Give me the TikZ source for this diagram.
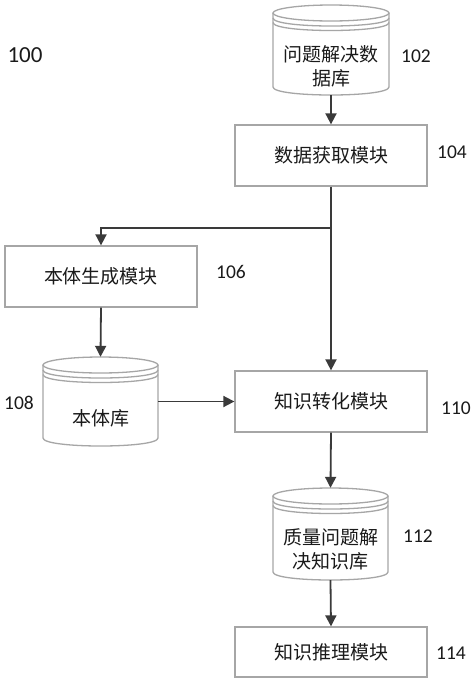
\documentclass[tikz,border=0pt]{standalone}
\usepackage{fontspec}
\setmainfont{Carlito}
\newfontfamily\cjk{Noto Sans CJK SC}
\usetikzlibrary{arrows.meta}
\definecolor{lnc}{HTML}{3A3A3A}
\definecolor{bdc}{HTML}{A6A6A6}
\definecolor{txc}{HTML}{1A1A1A}
\tikzset{
  box/.style={draw=bdc, line width=1.3pt, fill=white, minimum width=192pt, inner sep=0pt, font=\cjk\fontsize{19}{24}\selectfont, text=txc},
  dbline/.style={draw=bdc, line width=1.3pt},
  dbarea/.style={inner sep=0pt},
  dbtext/.style={inner sep=0pt, align=center, font=\cjk\fontsize{19}{24}\selectfont, text=txc},
  lbl/.style={inner sep=0pt, font=\fontsize{19.5}{21}\selectfont, text=txc},
  arr/.style={draw=lnc, line width=1.8pt, -{Triangle[length=11pt,width=11pt]}},
  ln/.style={draw=lnc, line width=1.8pt}
}
\newcommand\dbcyl[4]{% cx, top, bottom, halfwidth
  \pgfmathsetmacro\dbxa{#1-#4}%
  \pgfmathsetmacro\dbxb{#1+#4}%
  \pgfmathsetmacro\dbc{#2+8}%
  \pgfmathsetmacro\dbs{#3-8}%
  \fill[white] (\dbxa,\dbc) -- (\dbxa,\dbs) .. controls (\dbxa,\dbs+10.67) and (\dbxb,\dbs+10.67) .. (\dbxb,\dbs) -- (\dbxb,\dbc) -- cycle;
  \draw[dbline] (\dbxa,\dbc) -- (\dbxa,\dbs) .. controls (\dbxa,\dbs+10.67) and (\dbxb,\dbs+10.67) .. (\dbxb,\dbs) -- (\dbxb,\dbc);
  \draw[dbline, fill=white] (#1,\dbc) ellipse [x radius=#4pt, y radius=8pt];
  \draw[dbline] (\dbxa,\dbc+5) .. controls (\dbxa,\dbc+15.67) and (\dbxb,\dbc+15.67) .. (\dbxb,\dbc+5);
  \draw[dbline] (\dbxa,\dbc+9.5) .. controls (\dbxa,\dbc+20.17) and (\dbxb,\dbc+20.17) .. (\dbxb,\dbc+9.5);
}
\begin{document}
\begin{tikzpicture}[x=1pt, y=-1pt]
\useasboundingbox[fill=white] (0,0) rectangle (474,681);

% cylinders (shapes)
\dbcyl{331}{5}{95}{58}
\dbcyl{100.5}{357}{446}{57.5}
\dbcyl{330.5}{488}{580}{57.5}

% cylinder areas for connectors
\node[dbarea, minimum width=116pt, minimum height=90pt] (c102) at (331,50) {};
\node[dbarea, minimum width=115pt, minimum height=89pt] (c108) at (100.5,401.5) {};
\node[dbarea, minimum width=115pt, minimum height=92pt] (c112) at (330.5,534) {};

% cylinder texts
\node[dbtext] (t102) at (331,66) {问题解决数\\据库};
\node[dbtext] (t108) at (100.5,418) {本体库};
\node[dbtext] (t112) at (330.5,549) {质量问题解\\决知识库};

% boxes
\node[box, minimum height=61pt] (b104) at (331,155.5) {数据获取模块};
\node[box, minimum height=61pt] (b106) at (101,276.5) {本体生成模块};
\node[box, minimum height=61pt] (b110) at (331,401.5) {知识转化模块};
\node[box, minimum height=50pt] (b114) at (331,652) {知识推理模块};

% labels
\node[lbl, font=\fontsize{23}{25}\selectfont] (l100) at (25,55) {100};
\node[lbl] (l102) at (416,56) {102};
\node[lbl] (l104) at (452,152) {104};
\node[lbl] (l106) at (231,272) {106};
\node[lbl] (l108) at (19,403) {108};
\node[lbl] (l110) at (456,408) {110};
\node[lbl] (l112) at (418,536) {112};
\node[lbl] (l114) at (451,653) {114};

% connectors
\coordinate (j) at (331,228);
\draw[arr] (c102.south) -- (b104.north);
\draw[arr] (b104.south) -- (b110.north);
\draw[arr] (j) -| (b106.north);
\draw[arr] (b106.south) -- (c108.north);
\draw[arr] (c108.east) -- (b110.west);
\draw[arr] (b110.south) -- (c112.north);
\draw[arr] (c112.south) -- (b114.north);
\end{tikzpicture}
\end{document}
